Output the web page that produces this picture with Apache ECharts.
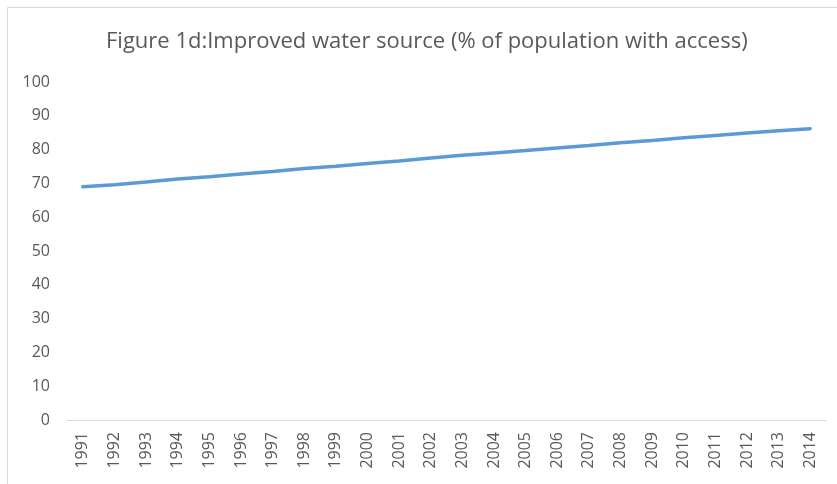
<!DOCTYPE html>
<html>
<head>
<meta charset="utf-8">
<script src="https://cdn.jsdelivr.net/npm/echarts@6/dist/echarts.min.js"></script>
<style>
  html, body { margin: 0; padding: 0; background: #ffffff; }
  #chart { width: 837px; height: 484px; }
</style>
</head>
<body>
<div id="chart"></div>
<script>
// Years on the horizontal axis
const years = ['1991','1992','1993','1994','1995','1996','1997','1998','1999','2000','2001','2002',
               '2003','2004','2005','2006','2007','2008','2009','2010','2011','2012','2013','2014'];
// Improved water source, % of population with access
const accessPct = [69.0, 69.6, 70.4, 71.3, 72.0, 72.8, 73.5, 74.4, 75.1, 75.9, 76.6, 77.5,
                   78.3, 79.0, 79.7, 80.5, 81.2, 82.0, 82.7, 83.5, 84.2, 84.9, 85.6, 86.2];
// Value axis ticks
const yMin = 0, yMax = 100, yStep = 10;

const chart = echarts.init(document.getElementById('chart'), null, { renderer: 'canvas' });
const font = '"Open Sans", "Liberation Sans", sans-serif';

chart.setOption({
  backgroundColor: '#ffffff',
  animation: false,
  graphic: [{
    type: 'rect',
    shape: { x: 7.5, y: 7.5, width: 850, height: 500 },
    style: { fill: 'none', stroke: '#d9d9d9', lineWidth: 1 },
    silent: true
  }],
  title: {
    text: 'Figure 1d:Improved water source (% of population with access)',
    left: 106,
    top: 31,
    padding: 0,
    textStyle: { fontFamily: font, fontSize: 22, fontWeight: 'normal', color: '#595959' }
  },
  grid: { left: 67, right: 11, top: 82, bottom: 64, containLabel: false },
  xAxis: {
    type: 'category',
    data: years,
    boundaryGap: true,
    axisLine: { lineStyle: { color: '#d9d9d9', width: 1 } },
    axisTick: { show: false },
    axisLabel: { rotate: 90, interval: 0, margin: 12, fontFamily: font, fontSize: 16, color: '#595959' }
  },
  yAxis: {
    type: 'value',
    min: yMin, max: yMax, interval: yStep,
    axisLine: { show: false },
    axisTick: { show: false },
    splitLine: { show: false },
    axisLabel: { margin: 17, fontFamily: font, fontSize: 16, color: '#595959' }
  },
  series: [{
    type: 'line',
    data: accessPct,
    showSymbol: false,
    lineStyle: { color: '#5b9bd5', width: 3.5, cap: 'round' },
    itemStyle: { color: '#5b9bd5' }
  }]
});
</script>
</body>
</html>
